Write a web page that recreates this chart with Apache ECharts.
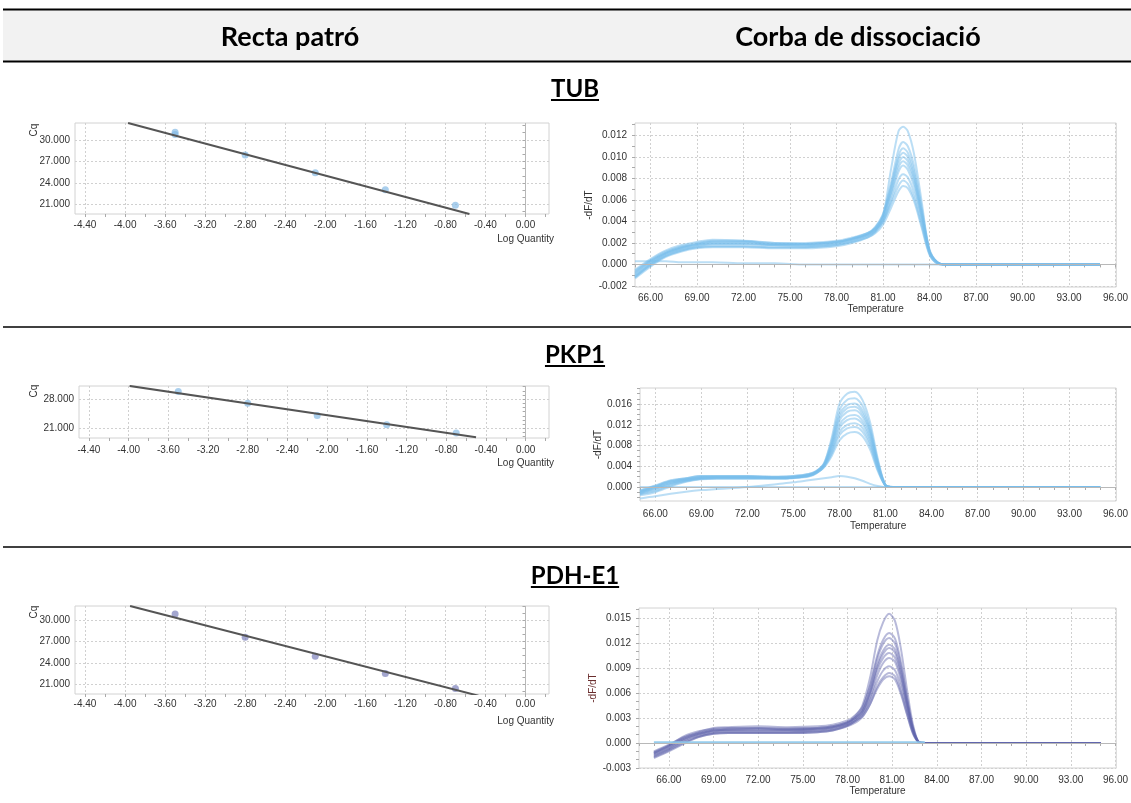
<!DOCTYPE html>
<html>
<head>
<meta charset="utf-8">
<script src="https://cdn.jsdelivr.net/npm/echarts@6/dist/echarts.min.js"></script>
<style>
  body { margin: 0; background: #fff; }
  #main { width: 1131px; height: 803px; }
</style>
</head>
<body>
<div id="main"></div>
<script>
// ---- standard curves (Cq vs Log Quantity) ----
const logQtyTicks = [-4.4, -4.0, -3.6, -3.2, -2.8, -2.4, -2.0, -1.6, -1.2, -0.8, -0.4, 0.0];

const tubLogQty = [-3.5, -3.5, -2.8, -2.1, -1.4, -0.7];
const tubCq = [31.07, 30.75, 27.9, 25.43, 23.05, 20.91];
const tubFitX = [-3.97, -0.56];
const tubFitCq = [32.34, 19.68];
const tubCqTicks = [21, 24, 27, 30];

const pkp1LogQty = [-3.5, -2.8, -2.1, -1.4, -0.7];
const pkp1Cq = [29.83, 27.05, 24.1, 21.88, 19.89];
const pkp1FitX = [-3.99, -0.5];
const pkp1FitCq = [31.18, 18.85];
const pkp1CqTicks = [21, 28];

const pdhLogQty = [-3.5, -2.8, -2.1, -1.4, -0.7];
const pdhCq = [30.89, 27.61, 24.94, 22.5, 20.39];
const pdhFitX = [-3.95, -0.47];
const pdhFitCq = [32.02, 19.36];
const pdhCqTicks = [21, 24, 27, 30];

// ---- melt curves (-dF/dT vs Temperature) ----
const tempTicks = [66, 69, 72, 75, 78, 81, 84, 87, 90, 93, 96];

const tubTicks = [-0.002, 0.0, 0.002, 0.004, 0.006, 0.008, 0.010, 0.012];
const tubTemps = [65, 66, 67, 68, 69, 70, 72, 74, 76, 78, 79, 80, 80.5, 81, 81.5, 82, 82.3, 82.6, 83, 83.5, 84, 84.5, 85, 87, 90, 95];
const tubCurves = [
  [-0.0012, 0.0000, 0.0009, 0.0014, 0.0017, 0.0019, 0.0019, 0.0018, 0.0018, 0.0020, 0.0023, 0.0027, 0.0032, 0.0045, 0.0087, 0.0124, 0.0128, 0.0124, 0.0103, 0.0058, 0.0012, 0.0002, 0, 0, 0, 0],
  [-0.0008, 0.0003, 0.0011, 0.0016, 0.0019, 0.0021, 0.0021, 0.0019, 0.0019, 0.0021, 0.0024, 0.0029, 0.0035, 0.0047, 0.0075, 0.0107, 0.0114, 0.0110, 0.0092, 0.0053, 0.0014, 0.0002, 0, 0, 0, 0],
  [-0.0010, 0.0001, 0.0010, 0.0015, 0.0018, 0.0020, 0.0020, 0.0018, 0.0018, 0.0020, 0.0023, 0.0028, 0.0034, 0.0046, 0.0072, 0.0101, 0.0108, 0.0104, 0.0087, 0.0050, 0.0013, 0.0002, 0, 0, 0, 0],
  [-0.0006, 0.0004, 0.0012, 0.0017, 0.0020, 0.0022, 0.0022, 0.0020, 0.0019, 0.0021, 0.0024, 0.0029, 0.0034, 0.0045, 0.0070, 0.0098, 0.0104, 0.0100, 0.0083, 0.0048, 0.0013, 0.0002, 0, 0, 0, 0],
  [-0.0011, 0.0000, 0.0008, 0.0013, 0.0016, 0.0017, 0.0017, 0.0016, 0.0016, 0.0018, 0.0021, 0.0026, 0.0031, 0.0043, 0.0067, 0.0094, 0.0100, 0.0096, 0.0080, 0.0046, 0.0012, 0.0002, 0, 0, 0, 0],
  [-0.0007, 0.0003, 0.0011, 0.0016, 0.0019, 0.0021, 0.0021, 0.0019, 0.0019, 0.0021, 0.0024, 0.0028, 0.0033, 0.0043, 0.0065, 0.0090, 0.0096, 0.0092, 0.0077, 0.0044, 0.0012, 0.0002, 0, 0, 0, 0],
  [-0.0013, -0.0002, 0.0007, 0.0012, 0.0015, 0.0016, 0.0016, 0.0015, 0.0015, 0.0017, 0.0020, 0.0025, 0.0030, 0.0040, 0.0062, 0.0086, 0.0092, 0.0088, 0.0073, 0.0042, 0.0011, 0.0002, 0, 0, 0, 0],
  [-0.0009, 0.0002, 0.0010, 0.0015, 0.0018, 0.0019, 0.0019, 0.0018, 0.0017, 0.0019, 0.0022, 0.0027, 0.0031, 0.0040, 0.0058, 0.0079, 0.0084, 0.0081, 0.0067, 0.0039, 0.0010, 0.0001, 0, 0, 0, 0],
  [-0.0005, 0.0005, 0.0013, 0.0018, 0.0021, 0.0023, 0.0022, 0.0020, 0.0020, 0.0022, 0.0025, 0.0029, 0.0033, 0.0040, 0.0056, 0.0073, 0.0078, 0.0075, 0.0062, 0.0036, 0.0010, 0.0001, 0, 0, 0, 0],
  [-0.0012, -0.0001, 0.0008, 0.0013, 0.0016, 0.0017, 0.0017, 0.0016, 0.0016, 0.0018, 0.0021, 0.0025, 0.0029, 0.0037, 0.0052, 0.0068, 0.0073, 0.0071, 0.0059, 0.0034, 0.0009, 0.0001, 0, 0, 0, 0],
  [0.0003, 0.0003, 0.0003, 0.0002, 0.0002, 0.0002, 0.0001, 0.0001, 0.0000, 0, 0, 0, 0, 0, 0, 0, 0, 0, 0, 0, 0, 0, 0, 0, 0, 0]
];

const pkp1Ticks = [0.0, 0.004, 0.008, 0.012, 0.016];
const pkp1Temps = [65, 66, 67, 68, 69, 70, 72, 74, 75, 76, 76.5, 77, 77.5, 78, 78.5, 79, 79.5, 80, 80.5, 81, 81.5, 82, 85, 88, 92, 95];
const pkp1Curves = [
  [-0.0010, -0.0002, 0.0008, 0.0014, 0.0018, 0.0019, 0.0019, 0.0018, 0.0019, 0.0023, 0.0030, 0.0045, 0.0095, 0.0160, 0.0180, 0.0184, 0.0168, 0.0125, 0.0055, 0.0004, 0, 0, 0, 0, 0, 0],
  [-0.0006, 0.0003, 0.0013, 0.0017, 0.0021, 0.0021, 0.0021, 0.0020, 0.0021, 0.0025, 0.0031, 0.0046, 0.0090, 0.0148, 0.0168, 0.0171, 0.0157, 0.0116, 0.0051, 0.0004, 0, 0, 0, 0, 0, 0],
  [-0.0014, -0.0008, 0.0003, 0.0011, 0.0016, 0.0017, 0.0017, 0.0017, 0.0018, 0.0021, 0.0027, 0.0042, 0.0085, 0.0140, 0.0158, 0.0161, 0.0148, 0.0110, 0.0048, 0.0004, 0, 0, 0, 0, 0, 0],
  [-0.0008, 0.0001, 0.0011, 0.0016, 0.0020, 0.0020, 0.0020, 0.0019, 0.0020, 0.0024, 0.0030, 0.0044, 0.0082, 0.0134, 0.0152, 0.0155, 0.0142, 0.0106, 0.0046, 0.0004, 0, 0, 0, 0, 0, 0],
  [-0.0016, -0.0010, 0.0001, 0.0010, 0.0015, 0.0016, 0.0016, 0.0016, 0.0017, 0.0020, 0.0026, 0.0040, 0.0078, 0.0128, 0.0145, 0.0148, 0.0136, 0.0101, 0.0044, 0.0003, 0, 0, 0, 0, 0, 0],
  [-0.0007, 0.0002, 0.0012, 0.0017, 0.0021, 0.0021, 0.0021, 0.0020, 0.0021, 0.0025, 0.0030, 0.0043, 0.0075, 0.0120, 0.0136, 0.0139, 0.0128, 0.0095, 0.0041, 0.0003, 0, 0, 0, 0, 0, 0],
  [-0.0012, -0.0004, 0.0006, 0.0013, 0.0017, 0.0018, 0.0018, 0.0017, 0.0018, 0.0022, 0.0028, 0.0041, 0.0071, 0.0114, 0.0129, 0.0132, 0.0122, 0.0090, 0.0039, 0.0003, 0, 0, 0, 0, 0, 0],
  [-0.0009, 0.0000, 0.0010, 0.0015, 0.0019, 0.0020, 0.0020, 0.0019, 0.0019, 0.0023, 0.0029, 0.0041, 0.0067, 0.0106, 0.0120, 0.0123, 0.0114, 0.0084, 0.0036, 0.0003, 0, 0, 0, 0, 0, 0],
  [-0.0013, -0.0006, 0.0005, 0.0012, 0.0016, 0.0017, 0.0017, 0.0017, 0.0018, 0.0021, 0.0027, 0.0039, 0.0064, 0.0100, 0.0113, 0.0116, 0.0107, 0.0079, 0.0034, 0.0003, 0, 0, 0, 0, 0, 0],
  [-0.0011, -0.0002, 0.0008, 0.0014, 0.0018, 0.0019, 0.0019, 0.0018, 0.0019, 0.0022, 0.0028, 0.0038, 0.0060, 0.0090, 0.0103, 0.0106, 0.0098, 0.0072, 0.0031, 0.0003, 0, 0, 0, 0, 0, 0],
  [-0.0022, -0.0018, -0.0013, -0.0009, -0.0006, -0.0004, 0.0000, 0.0006, 0.0009, 0.0013, 0.0015, 0.0017, 0.0019, 0.0021, 0.0020, 0.0017, 0.0012, 0.0006, 0.0002, 0.0000, 0, 0, 0, 0, 0, 0],
  [0, 0, 0, 0, 0, 0, 0, 0, 0, 0, 0, 0, 0, 0, 0, 0, 0, 0, 0, 0, 0, 0, 0, 0, 0, 0]
];

const pdhTicks = [-0.003, 0.0, 0.003, 0.006, 0.009, 0.012, 0.015];
const pdhTemps = [65, 66, 67, 68, 69, 70, 72, 74, 76, 77, 78, 78.5, 79, 79.5, 80, 80.4, 80.8, 81.2, 81.6, 82, 82.4, 82.8, 83.2, 86, 90, 95];
const pdhCurves = [
  [-0.0012, -0.0003, 0.0008, 0.0014, 0.0017, 0.0018, 0.0018, 0.0017, 0.0018, 0.0020, 0.0025, 0.0032, 0.0045, 0.0077, 0.0123, 0.0145, 0.0155, 0.0146, 0.0112, 0.0064, 0.0022, 0.0001, 0, 0, 0, 0],
  [-0.0015, -0.0007, 0.0003, 0.0010, 0.0014, 0.0015, 0.0015, 0.0015, 0.0016, 0.0018, 0.0024, 0.0030, 0.0041, 0.0068, 0.0105, 0.0124, 0.0132, 0.0125, 0.0096, 0.0055, 0.0019, 0.0001, 0, 0, 0, 0],
  [-0.0010, -0.0002, 0.0007, 0.0013, 0.0018, 0.0019, 0.0020, 0.0019, 0.0020, 0.0022, 0.0027, 0.0033, 0.0043, 0.0067, 0.0101, 0.0119, 0.0126, 0.0119, 0.0092, 0.0053, 0.0018, 0.0001, 0, 0, 0, 0],
  [-0.0018, -0.0010, -0.0001, 0.0007, 0.0011, 0.0012, 0.0012, 0.0012, 0.0013, 0.0015, 0.0021, 0.0027, 0.0037, 0.0060, 0.0094, 0.0111, 0.0118, 0.0112, 0.0086, 0.0049, 0.0017, 0.0001, 0, 0, 0, 0],
  [-0.0013, -0.0005, 0.0005, 0.0011, 0.0015, 0.0016, 0.0016, 0.0016, 0.0017, 0.0019, 0.0024, 0.0030, 0.0039, 0.0060, 0.0091, 0.0107, 0.0114, 0.0108, 0.0083, 0.0048, 0.0016, 0.0001, 0, 0, 0, 0],
  [-0.0011, -0.0003, 0.0006, 0.0012, 0.0016, 0.0017, 0.0018, 0.0017, 0.0018, 0.0020, 0.0025, 0.0030, 0.0038, 0.0058, 0.0087, 0.0102, 0.0108, 0.0102, 0.0079, 0.0045, 0.0015, 0.0001, 0, 0, 0, 0],
  [-0.0016, -0.0008, 0.0001, 0.0008, 0.0012, 0.0013, 0.0013, 0.0013, 0.0014, 0.0016, 0.0021, 0.0026, 0.0034, 0.0053, 0.0081, 0.0096, 0.0102, 0.0097, 0.0074, 0.0043, 0.0014, 0.0001, 0, 0, 0, 0],
  [-0.0012, -0.0004, 0.0005, 0.0011, 0.0015, 0.0016, 0.0017, 0.0016, 0.0017, 0.0019, 0.0023, 0.0028, 0.0035, 0.0051, 0.0074, 0.0087, 0.0092, 0.0087, 0.0067, 0.0039, 0.0013, 0.0001, 0, 0, 0, 0],
  [-0.0017, -0.0009, 0.0000, 0.0007, 0.0011, 0.0012, 0.0012, 0.0012, 0.0013, 0.0015, 0.0020, 0.0024, 0.0031, 0.0046, 0.0068, 0.0079, 0.0084, 0.0080, 0.0061, 0.0035, 0.0012, 0.0001, 0, 0, 0, 0],
  [-0.0014, -0.0006, 0.0003, 0.0009, 0.0013, 0.0014, 0.0014, 0.0014, 0.0015, 0.0017, 0.0022, 0.0026, 0.0032, 0.0046, 0.0065, 0.0076, 0.0080, 0.0076, 0.0058, 0.0034, 0.0011, 0.0001, 0, 0, 0, 0]
];
const pdhControl = [0.0001, 0.0001, 0.0001, 0.0001, 0.0001, 0.0001, 0.0001, 0.0001, 0.0001, 0.0001, 0.0001, 0.0001, 0.0001, 0.0001, 0.0001, 0.0001, 0.0001, 0.0001, 0.0001, 0.0001, 0.0001, 0.0001, 0.0001, null, null, null];

// ---- chart ----
const chart = echarts.init(document.getElementById('main'));
const FONT = 'Liberation Sans';
const TITLE_FONT = 'Lato';
const AXIS_TEXT = { fontFamily: FONT, fontSize: 10, color: '#333' };
const DOTTED = { show: true, lineStyle: { color: '#d0d0d0', type: [2, 2], width: 1 } };

const grids = [], xAxes = [], yAxes = [], series = [];

// minor tick positions between the labelled ones
function minorTicks(major, step, lo, hi) {
  const out = [];
  for (let v = major[0] - 10 * step; v <= hi + 1e-9; v += step) {
    const r = Math.round(v * 1e6) / 1e6;
    if (r >= lo - 1e-9 && !major.some(m => Math.abs(m - r) < 1e-9)) out.push(r);
  }
  return out;
}

// returns the index of the labelled x / y axis for the panel
function addPanel(p) {
  const g = grids.length;
  grids.push({
    left: p.box[0], top: p.box[1], width: p.box[2], height: p.box[3],
    show: true, borderColor: '#d2d2d2', borderWidth: 1, backgroundColor: '#fff'
  });
  const tick = { show: true, length: 3, lineStyle: { color: '#aaa' } };
  const xi = xAxes.length;
  xAxes.push({
    gridIndex: g, type: 'value', position: 'bottom', min: p.xMin, max: p.xMax,
    axisLine: { show: false },
    axisTick: { ...tick, customValues: p.xTicks },
    axisLabel: { customValues: p.xTicks, formatter: v => v.toFixed(2), margin: p.xMargin, ...AXIS_TEXT },
    splitLine: DOTTED,
    name: p.xName || '', nameLocation: 'middle', nameGap: p.xNameGap || 0,
    nameTextStyle: { ...AXIS_TEXT }
  });
  xAxes.push({
    gridIndex: g, type: 'value', position: 'bottom', min: p.xMin, max: p.xMax,
    axisLine: { show: false }, axisLabel: { show: false }, splitLine: { show: false },
    axisTick: { ...tick, customValues: p.xMinor }
  });
  const yi = yAxes.length;
  yAxes.push({
    gridIndex: g, type: 'value', position: 'left', min: p.yMin, max: p.yMax,
    axisLine: { show: false },
    axisTick: { ...tick, customValues: p.yTicks },
    axisLabel: { customValues: p.yTicks, formatter: v => v.toFixed(3), margin: p.yMargin, ...AXIS_TEXT },
    splitLine: DOTTED,
    name: p.yName || '', nameLocation: 'middle', nameGap: p.yNameGap || 0,
    nameTextStyle: { ...AXIS_TEXT, color: p.yNameColor || '#333' }
  });
  yAxes.push({
    gridIndex: g, type: 'value', position: 'left', min: p.yMin, max: p.yMax,
    axisLine: { show: false }, axisLabel: { show: false }, splitLine: { show: false },
    axisTick: { ...tick, customValues: p.yMinor }
  });
  return [xi, yi];
}

const ZERO_LINE = { silent: true, symbol: 'none', label: { show: false }, animation: false,
  lineStyle: { type: 'solid', color: '#b8b8b8', width: 1 } };

function addStd(box, yMin, yMax, cqTicks, xs, ys, fitX, fitY, dot, xMargin) {
  const [xi, yi] = addPanel({
    box, xMin: -4.5, xMax: 0.235, yMin, yMax,
    xTicks: logQtyTicks, xMinor: minorTicks(logQtyTicks, 0.2, -4.5, 0.235),
    yTicks: cqTicks, yMinor: minorTicks(cqTicks, 1, yMin, yMax),
    xMargin, yMargin: 5
  });
  series.push({
    type: 'scatter', xAxisIndex: xi, yAxisIndex: yi, z: 3, symbolSize: 7,
    data: xs.map((x, k) => [x, ys[k]]), itemStyle: { color: dot },
    markLine: { ...ZERO_LINE, data: [{ xAxis: 0 }] }
  });
  series.push({
    type: 'line', xAxisIndex: xi, yAxisIndex: yi, z: 4, showSymbol: false,
    data: fitX.map((x, k) => [x, fitY[k]]),
    lineStyle: { color: '#555', width: 2 }
  });
}

function addMelt(box, xMin, yMin, yMax, ticks, minorStep, temps, curves, color, opts) {
  const [xi, yi] = addPanel({
    box, xMin, xMax: 96.05, yMin, yMax,
    xTicks: tempTicks, xMinor: minorTicks(tempTicks, 1, xMin, 96.05),
    yTicks: ticks, yMinor: minorTicks(ticks, minorStep, yMin, yMax),
    xMargin: opts.xMargin, yMargin: 8,
    xName: 'Temperature', xNameGap: opts.xNameGap,
    yName: '-dF/dT', yNameGap: opts.yNameGap, yNameColor: opts.yNameColor
  });
  curves.forEach((c, n) => {
    const s = {
      type: 'line', xAxisIndex: xi, yAxisIndex: yi, z: 2, showSymbol: false, smooth: 0.3,
      data: temps.map((t, k) => [t, c[k]]),
      lineStyle: { color, width: 2 }
    };
    if (n === 0) s.markLine = { ...ZERO_LINE, data: [{ yAxis: 0 }] };
    series.push(s);
  });
  return [xi, yi];
}

addStd([75, 123, 474, 91], 19.68, 32.34, tubCqTicks, tubLogQty, tubCq, tubFitX, tubFitCq, 'rgba(130,185,228,0.85)', 6);
addStd([79, 386, 470, 52], 18.69, 31.16, pkp1CqTicks, pkp1LogQty, pkp1Cq, pkp1FitX, pkp1FitCq, 'rgba(130,185,228,0.85)', 7);
addStd([75, 606, 474, 88], 19.6, 32.02, pdhCqTicks, pdhLogQty, pdhCq, pdhFitX, pdhFitCq, 'rgba(120,124,185,0.85)', 5);

const blue = 'rgba(120,190,235,0.5)';
addMelt([635, 123, 484, 164], 65, -0.0021, 0.01316, tubTicks, 0.001, tubTemps, tubCurves, blue,
  { xMargin: 6, xNameGap: 16, yNameGap: 34 });
addMelt([640, 388, 479, 113], 65, -0.0027, 0.0191, pkp1Ticks, 0.001, pkp1Temps, pkp1Curves, blue,
  { xMargin: 8, xNameGap: 20, yNameGap: 37 });
const [pdhX, pdhY] = addMelt([639, 608, 479, 160], 64, -0.003, 0.0162, pdhTicks, 0.001, pdhTemps, pdhCurves, 'rgba(98,102,172,0.45)',
  { xMargin: 7, xNameGap: 18, yNameGap: 35, yNameColor: '#6a2e2e' });
series.push({
  type: 'line', xAxisIndex: pdhX, yAxisIndex: pdhY, z: 2, showSymbol: false,
  data: pdhTemps.map((t, k) => [t, pdhControl[k]]),
  lineStyle: { color: 'rgba(140,200,235,0.9)', width: 2 }
});

// ---- header table, section titles, axis captions ----
const measure = document.createElement('canvas').getContext('2d');
function textWidth(txt, font) { measure.font = font; return measure.measureText(txt).width; }

const graphics = [
  { type: 'rect', shape: { x: 3, y: 10, width: 1128, height: 51 }, style: { fill: '#f2f2f2' } },
  { type: 'line', shape: { x1: 3, y1: 9.5, x2: 1131, y2: 9.5 }, style: { stroke: '#000', lineWidth: 2 } },
  { type: 'line', shape: { x1: 3, y1: 61.5, x2: 1131, y2: 61.5 }, style: { stroke: '#000', lineWidth: 2 } },
  { type: 'line', shape: { x1: 3, y1: 327, x2: 1131, y2: 327 }, style: { stroke: '#000', lineWidth: 1.5 } },
  { type: 'line', shape: { x1: 3, y1: 547, x2: 1131, y2: 547 }, style: { stroke: '#000', lineWidth: 1.5 } },
  { type: 'text', x: 290, y: 37, style: { text: 'Recta patró', fontFamily: TITLE_FONT, fontWeight: 'bold', fontSize: 27, fill: '#000', align: 'center', verticalAlign: 'middle' } },
  { type: 'text', x: 858, y: 37, style: { text: 'Corba de dissociació', fontFamily: TITLE_FONT, fontWeight: 'bold', fontSize: 27, fill: '#000', align: 'center', verticalAlign: 'middle' } }
];

[['TUB', 89, 100], ['PKP1', 355, 366], ['PDH-E1', 576, 587]].forEach(([txt, y, uy]) => {
  const w = textWidth(txt, 'bold 24px ' + TITLE_FONT);
  graphics.push({ type: 'text', x: 575, y, style: { text: txt, fontFamily: TITLE_FONT, fontWeight: 'bold', fontSize: 24, fill: '#000', align: 'center', verticalAlign: 'middle' } });
  graphics.push({ type: 'line', shape: { x1: 575 - w / 2, y1: uy, x2: 575 + w / 2, y2: uy }, style: { stroke: '#000', lineWidth: 2 } });
});

[[130, 239], [391, 463], [612, 721]].forEach(([cqY, lqY]) => {
  graphics.push({ type: 'text', x: 34, y: cqY, rotation: Math.PI / 2, style: { text: 'Cq', ...AXIS_TEXT, fill: '#333', align: 'center', verticalAlign: 'middle' } });
  graphics.push({ type: 'text', x: 554, y: lqY, style: { text: 'Log Quantity', ...AXIS_TEXT, fill: '#333', align: 'right', verticalAlign: 'middle' } });
});

chart.setOption({
  animation: false,
  backgroundColor: '#fff',
  grid: grids,
  xAxis: xAxes,
  yAxis: yAxes,
  series: series,
  graphic: graphics
});
</script>
</body>
</html>
